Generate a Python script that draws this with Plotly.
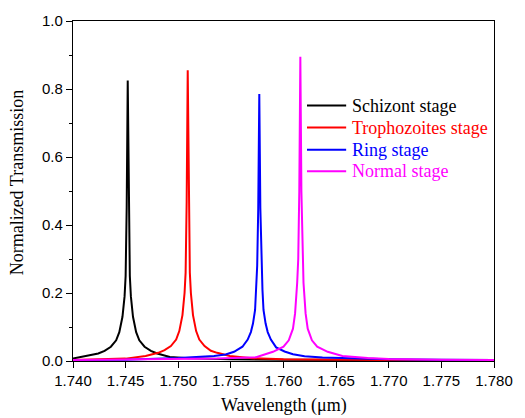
import plotly.graph_objects as go

# ---- data ----
schizont_x = [1.7400, 1.7412, 1.7424, 1.7430, 1.7436, 1.7441, 1.7444, 1.7447, 1.7449, 1.7450, 1.7451,
              1.7452,
              1.7453, 1.7454, 1.7455, 1.7457, 1.7460, 1.7463, 1.7468, 1.7474, 1.7480, 1.7492, 1.7510,
              1.7550, 1.7600, 1.7700, 1.7800]
schizont_y = [0.007, 0.014, 0.022, 0.030, 0.042, 0.061, 0.085, 0.13, 0.19, 0.25, 0.45,
              0.825,
              0.45, 0.25, 0.19, 0.13, 0.085, 0.061, 0.042, 0.030, 0.022, 0.012, 0.008,
              0.005, 0.0035, 0.0025, 0.002]

tropho_x = [1.7400, 1.7450, 1.7469, 1.7481, 1.7487, 1.7493, 1.7498, 1.7501, 1.7504, 1.7506, 1.7507, 1.7508,
            1.7509,
            1.7510, 1.7511, 1.7512, 1.7514, 1.7517, 1.7520, 1.7525, 1.7531, 1.7537, 1.7549, 1.7570,
            1.7600, 1.7700, 1.7800]
tropho_y = [0.003, 0.007, 0.015, 0.024, 0.032, 0.044, 0.063, 0.088, 0.135, 0.20, 0.26, 0.47,
            0.855,
            0.47, 0.26, 0.20, 0.135, 0.088, 0.063, 0.044, 0.030, 0.024, 0.015, 0.008,
            0.005, 0.003, 0.002]

ring_x = [1.7400, 1.7450, 1.7500, 1.7517, 1.7534, 1.7545, 1.7553, 1.7561, 1.7566, 1.7569, 1.7571, 1.7573,
          1.7574, 1.7575, 1.7576,
          1.7577,
          1.7578, 1.7579, 1.7580, 1.7581, 1.7583, 1.7585, 1.7588, 1.7593, 1.7601, 1.7609, 1.7620,
          1.7637, 1.7655, 1.7700, 1.7750, 1.7800]
ring_y = [0.003, 0.004, 0.009, 0.011, 0.015, 0.019, 0.027, 0.042, 0.063, 0.085, 0.11, 0.15,
          0.21, 0.28, 0.45,
          0.785,
          0.45, 0.28, 0.21, 0.15, 0.11, 0.085, 0.063, 0.040, 0.028, 0.020, 0.014,
          0.010, 0.008, 0.005, 0.004, 0.003]

normal_x = [1.7400, 1.7500, 1.7537, 1.7574, 1.7590, 1.7600, 1.7605, 1.7609, 1.7611, 1.7613, 1.7614, 1.7615,
            1.7616,
            1.7617, 1.7618, 1.7619, 1.7621, 1.7623, 1.7627, 1.7632, 1.7642, 1.7656, 1.7680,
            1.7700, 1.7750, 1.7800]
normal_y = [0.003, 0.005, 0.007, 0.011, 0.027, 0.042, 0.061, 0.095, 0.14, 0.23, 0.30, 0.50,
            0.895,
            0.50, 0.30, 0.23, 0.14, 0.095, 0.061, 0.042, 0.027, 0.015, 0.009,
            0.006, 0.004, 0.003]

series_names = ["Schizont stage", "Trophozoites stage", "Ring stage", "Normal stage"]
series_colors = ["#000000", "#ff0000", "#0000ff", "#ff00ff"]
series_data = [(schizont_x, schizont_y), (tropho_x, tropho_y), (ring_x, ring_y), (normal_x, normal_y)]

x_ticks = [1.740, 1.745, 1.750, 1.755, 1.760, 1.765, 1.770, 1.775, 1.780]
y_ticks = [0.0, 0.2, 0.4, 0.6, 0.8, 1.0]

SERIF = "Liberation Serif, Times New Roman, serif"
SANS = "Liberation Sans, Arial, sans-serif"

W, H = 525, 418
L, R, T, B = 73, 22, 15, 57
PW, PH = W - L - R, H - T - B


def px_x(p):
    return (p - L) / PW


def px_y(p):
    return (H - B - p) / PH


fig = go.Figure()
for name, color, (xs, ys) in zip(series_names, series_colors, series_data):
    fig.add_trace(go.Scatter(x=xs, y=ys, mode="lines", name=name,
                             line=dict(color=color, width=2), showlegend=False))

# legend drawn as key lines + coloured labels (as in the reference)
shapes = []
annotations = []
leg_rows = [101, 123.5, 146, 168]
for name, color, ry in zip(series_names, series_colors, leg_rows):
    shapes.append(dict(type="line", xref="paper", yref="paper",
                       x0=px_x(312), x1=px_x(352), y0=px_y(ry), y1=px_y(ry),
                       line=dict(color=color, width=2)))
    annotations.append(dict(text=name, xref="paper", yref="paper",
                            x=px_x(356), y=px_y(ry), xanchor="left", yanchor="middle",
                            showarrow=False, font=dict(family=SERIF, size=18, color=color)))

annotations += [
    dict(text="Wavelength (μm)", xref="paper", yref="paper",
         x=0.5, y=px_y(406), xanchor="center", yanchor="middle",
         showarrow=False, font=dict(family=SERIF, size=18, color="black")),
    dict(text="Normalized Transmission", xref="paper", yref="paper",
         x=px_x(16), y=px_y(179), xanchor="center", yanchor="middle",
         textangle=-90, showarrow=False, font=dict(family=SERIF, size=18, color="black")),
]

fig.update_layout(
    width=W, height=H,
    margin=dict(l=L, r=R, t=T, b=B, pad=0),
    paper_bgcolor="white", plot_bgcolor="white",
    showlegend=False,
    xaxis=dict(range=[1.740, 1.780], tickvals=x_ticks, tickformat=".3f",
               showgrid=False, zeroline=False,
               showline=True, linecolor="black", linewidth=1.3, mirror=True,
               ticks="outside", ticklen=6, tickwidth=1.2, tickcolor="black",
               tickfont=dict(family=SANS, size=15, color="black")),
    yaxis=dict(range=[0, 1.0], tickvals=y_ticks, tickformat=".1f",
               showgrid=False, zeroline=False,
               showline=True, linecolor="black", linewidth=1.3, mirror=True,
               ticks="outside", ticklen=6, tickwidth=1.2, tickcolor="black",
               tickfont=dict(family=SANS, size=15, color="black"),
               minor=dict(ticks="outside", ticklen=3, tickwidth=1.2, tickcolor="black",
                          dtick=0.1, showgrid=False)),
    shapes=shapes,
    annotations=annotations,
)

fig.write_html("out.html")
